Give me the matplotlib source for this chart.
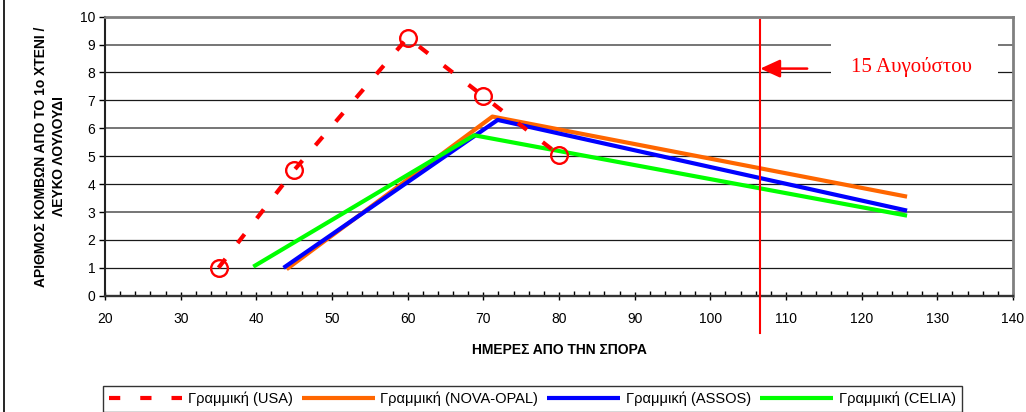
import matplotlib
matplotlib.use("Agg")
import matplotlib.pyplot as plt
from matplotlib.patches import Rectangle
from matplotlib.lines import Line2D
from matplotlib.ticker import MultipleLocator

plt.rcParams['font.family'] = ['Liberation Sans', 'DejaVu Sans']

# ---- data ----
usa_days = [35, 45, 60, 70, 80]
usa_nodes = [1.0, 4.5, 9.25, 7.15, 5.05]

nova_days = [44.0, 71.2, 126.0]
nova_nodes = [0.95, 6.42, 3.55]

assos_days = [43.6, 71.9, 126.0]
assos_nodes = [1.0, 6.3, 3.05]

celia_days = [39.6, 68.8, 126.0]
celia_nodes = [1.04, 5.75, 2.87]

aug15_day = 106.5
annot_text = "15 Αυγούστου"

legend_labels = ["Γραμμική (USA)", "Γραμμική (NOVA-OPAL)",
                 "Γραμμική (ASSOS)", "Γραμμική (CELIA)"]
xlabel = "ΗΜΕΡΕΣ ΑΠΟ ΤΗΝ ΣΠΟΡΑ"
ylabel = "ΑΡΙΘΜΟΣ ΚΟΜΒΩΝ ΑΠΟ ΤΟ 1ο ΧΤΕΝΙ /\nΛΕΥΚΟ ΛΟΥΛΟΥΔΙ"

W, H = 1026, 412
fig = plt.figure(figsize=(W / 100, H / 100), dpi=100)
ax = fig.add_axes([105 / W, 1 - 295.7 / H, (1013 - 105) / W, (295.7 - 16.7) / H])

ax.set_xlim(20, 140)
ax.set_ylim(0, 10)

# gridlines
for yv in range(1, 10):
    if yv % 3 == 0:
        ax.axhline(yv, color='#6a6a6a', lw=1.3, zorder=1)
    else:
        ax.axhline(yv, color='#1a1a1a', lw=0.9, zorder=1)

orange = '#FF6600'
blue = '#0000FF'
green = '#00FF00'
red = '#FF0000'

l_nova, = ax.plot(nova_days, nova_nodes, color=orange, lw=3.0, zorder=3,
                  solid_capstyle='butt')
l_assos, = ax.plot(assos_days, assos_nodes, color=blue, lw=3.0, zorder=4,
                   solid_capstyle='butt')
l_celia, = ax.plot(celia_days, celia_nodes, color=green, lw=3.0, zorder=5,
                   solid_capstyle='butt')
l_usa, = ax.plot(usa_days, usa_nodes, color=red, lw=3.0, zorder=6,
                 dashes=(2.7, 4.8), dash_capstyle='butt')
ax.plot(usa_days, usa_nodes, linestyle='none', marker='o', markersize=12,
        markerfacecolor='none', markeredgecolor=red, markeredgewidth=1.7,
        zorder=7)

# white box behind annotation text (hides gridlines)
ax.add_patch(Rectangle((115.9, 7.45), 22.1, 2.1, facecolor='white',
                       edgecolor='none', zorder=2))
ax.text(126.6, 8.21, annot_text, color=red, fontsize=15,
        family=['Liberation Serif', 'DejaVu Serif'],
        ha='center', va='center', zorder=8)

# vertical line
ax.plot([aug15_day, aug15_day], [-1.34, 9.88], color=red, lw=1.5,
        clip_on=False, zorder=8)
# arrow
ax.annotate('', xy=(aug15_day + 0.1, 8.14), xytext=(112.8, 8.14),
            arrowprops=dict(arrowstyle='-|>,head_length=1.2,head_width=0.55',
                            color=red, lw=1.8, shrinkA=0, shrinkB=0),
            zorder=9)

# spines
ax.spines['left'].set_color('#222222')
ax.spines['bottom'].set_color('#333333')
ax.spines['left'].set_linewidth(1.5)
ax.spines['bottom'].set_linewidth(1.7)
ax.spines['top'].set_color('#808080')
ax.spines['right'].set_color('#808080')
ax.spines['top'].set_linewidth(2)
ax.spines['right'].set_linewidth(2)

ax.xaxis.set_major_locator(MultipleLocator(10))
ax.xaxis.set_minor_locator(MultipleLocator(2))
ax.yaxis.set_major_locator(MultipleLocator(1))
ax.tick_params(axis='x', which='major', direction='inout', length=6, width=1,
               labelsize=10, pad=9)
ax.tick_params(axis='x', which='minor', direction='in', length=3.5, width=1)
ax.tick_params(axis='y', which='major', direction='out', length=4, width=1,
               labelsize=10, pad=3)

fig.text(559 / W, 1 - 350 / H, xlabel, ha='center', va='center',
         fontsize=10, fontweight='bold')
fig.text(50 / W, 1 - 156.5 / H, ylabel, ha='center', va='center',
         rotation=90, fontsize=10, fontweight='bold', multialignment='center',
         linespacing=1.45)

# figure left border
fig.add_artist(Line2D([4 / W, 4 / W], [0, 1], color='black', lw=1.2,
                      transform=fig.transFigure))

leg = fig.legend([l_usa, l_nova, l_assos, l_celia], legend_labels,
                 loc='upper left', ncol=4, mode='expand',
                 bbox_to_anchor=(103 / W, 1 - 386 / H, (962 - 103) / W, 0.0),
                 bbox_transform=fig.transFigure,
                 fontsize=10.5, frameon=True, fancybox=False, borderaxespad=0,
                 handlelength=5.0, handletextpad=0.4, columnspacing=0.5,
                 borderpad=0.4)
leg.get_frame().set_edgecolor('black')
leg.get_frame().set_linewidth(1.0)

fig.savefig('out.png', dpi=100)
